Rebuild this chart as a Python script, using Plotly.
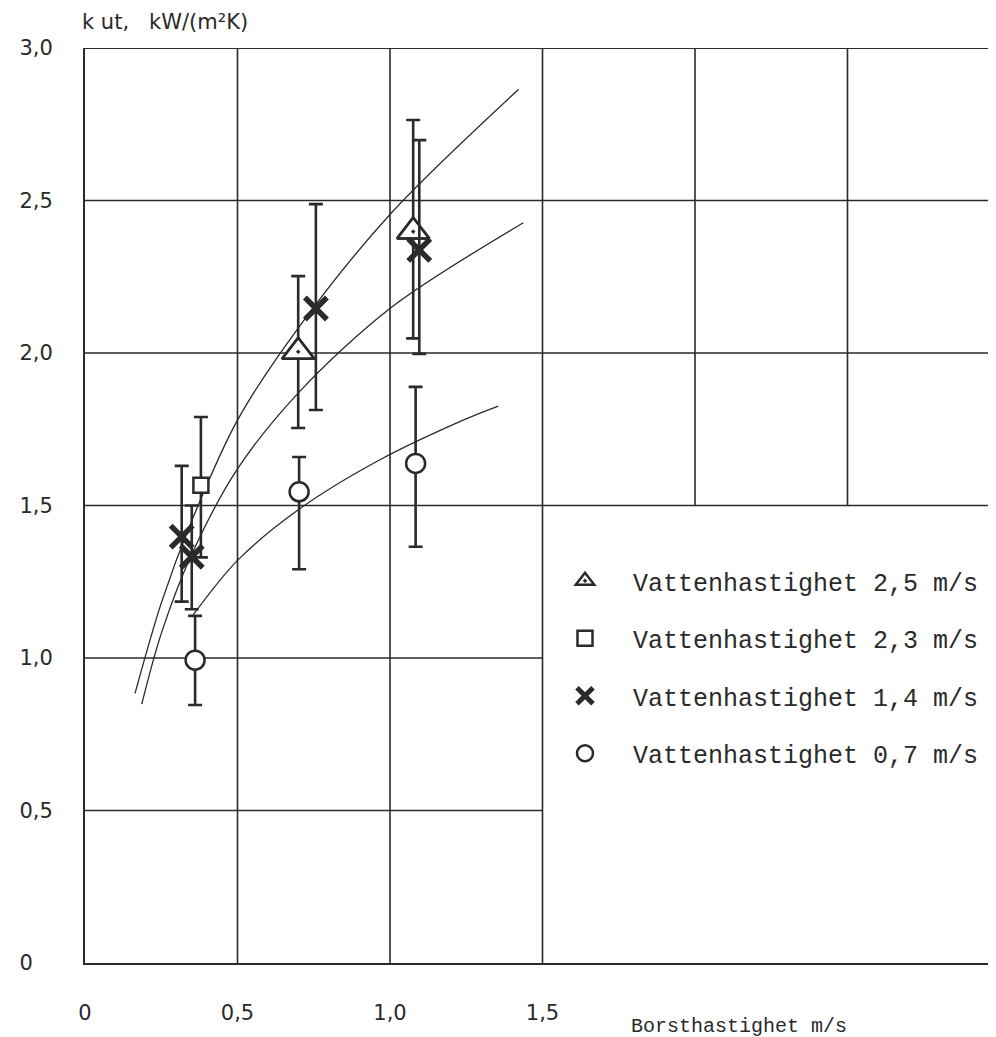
import plotly.graph_objects as go

# ---------------- data ----------------
tri_x = [0.699, 1.076]
tri_y = [2.004, 2.398]
tri_hi = [2.252, 2.764]
tri_lo = [1.754, 2.048]

sq_x = [0.380]
sq_y = [1.566]
sq_hi = [1.79]
sq_lo = [1.33]

cross_x = [0.317, 0.350, 0.757, 1.096]
cross_y = [1.398, 1.332, 2.146, 2.338]
cross_hi = [1.63, 1.50, 2.488, 2.698]
cross_lo = [1.185, 1.16, 1.813, 1.997]

circ_x = [0.361, 0.702, 1.084]
circ_y = [0.993, 1.545, 1.638]
circ_hi = [1.138, 1.659, 1.889]
circ_lo = [0.846, 1.291, 1.365]

curveA_x = [0.164, 0.25, 0.35, 0.50, 0.705, 1.005, 1.421]
curveA_y = [0.884, 1.18, 1.45, 1.78, 2.09, 2.46, 2.864]
curveB_x = [0.186, 0.25, 0.35, 0.50, 0.705, 1.005, 1.437]
curveB_y = [0.849, 1.08, 1.34, 1.62, 1.875, 2.15, 2.427]
curveC_x = [0.35, 0.50, 0.705, 0.967, 1.24, 1.355]
curveC_y = [1.135, 1.32, 1.49, 1.65, 1.78, 1.826]

legend_names = ["Vattenhastighet 2,5 m/s", "Vattenhastighet 2,3 m/s",
                "Vattenhastighet 1,4 m/s", "Vattenhastighet 0,7 m/s"]

NB = "\u00a0"
x_tickvals = [0, 0.5, 1.0, 1.5]
x_ticktext = ["0", "0,5", "1,0", "1,5"]
y_tickvals = [0, 0.5, 1.0, 1.5, 2.0, 2.5, 3.0]
y_ticktext = ["0" + NB * 3, "0,5", "1,0", "1,5", "2,0", "2,5", "3,0"]

# grid layout (reference draws the grid only partly)
v_full = [0.5, 1.0, 1.5]          # vertical lines, whole height
v_upper = [2.0, 2.5]              # vertical lines, only above y=1.5
h_left = [0.5, 1.0]               # horizontal lines, only left of x=1.5
h_full = [1.5, 2.0, 2.5, 3.0]     # horizontal lines, whole width

INK = "#2a2a2a"
X_MAX = 911 / 305.0
Y_MAX = 3.0

fig = go.Figure()

for cx, cy in [(curveA_x, curveA_y), (curveB_x, curveB_y), (curveC_x, curveC_y)]:
    fig.add_trace(go.Scatter(x=cx, y=cy, mode="lines",
                             line=dict(color=INK, width=1.3, shape="spline", smoothing=0.9),
                             showlegend=False, hoverinfo="skip"))


def err(hi, lo, y):
    return dict(type="data", symmetric=False,
                array=[h - v for h, v in zip(hi, y)],
                arrayminus=[v - l for l, v in zip(lo, y)],
                color=INK, thickness=2.6, width=7)


fig.add_trace(go.Scatter(x=tri_x, y=tri_y, mode="markers", error_y=err(tri_hi, tri_lo, tri_y),
                         marker=dict(symbol="triangle-up", size=28, color="white", line=dict(color=INK, width=2.5)),
                         showlegend=False, hoverinfo="skip"))
fig.add_trace(go.Scatter(x=tri_x, y=tri_y, mode="markers", name=legend_names[0], legendgroup="a",
                         marker=dict(symbol="triangle-up-open-dot", size=28, color=INK, line=dict(color=INK, width=2.5))))
fig.add_trace(go.Scatter(x=sq_x, y=sq_y, mode="markers", name=legend_names[1], legendgroup="b",
                         error_y=err(sq_hi, sq_lo, sq_y),
                         marker=dict(symbol="square", size=15, color="white", line=dict(color=INK, width=2.5))))
fig.add_trace(go.Scatter(x=cross_x, y=cross_y, mode="markers", name=legend_names[2], legendgroup="c",
                         error_y=err(cross_hi, cross_lo, cross_y),
                         marker=dict(symbol="x-thin", size=22, color=INK, line=dict(color=INK, width=5.5))))
fig.add_trace(go.Scatter(x=circ_x, y=circ_y, mode="markers", name=legend_names[3], legendgroup="d",
                         error_y=err(circ_hi, circ_lo, circ_y),
                         marker=dict(symbol="circle", size=19, color="white", line=dict(color=INK, width=2.5))))

shapes = []
for v in v_full:
    shapes.append(dict(type="line", xref="x", yref="y", x0=v, x1=v, y0=0, y1=Y_MAX,
                       line=dict(color=INK, width=1.6), layer="below"))
for v in v_upper:
    shapes.append(dict(type="line", xref="x", yref="y", x0=v, x1=v, y0=1.5, y1=Y_MAX,
                       line=dict(color=INK, width=1.6), layer="below"))
for h in h_left:
    shapes.append(dict(type="line", xref="x", yref="y", x0=0, x1=1.5, y0=h, y1=h,
                       line=dict(color=INK, width=1.6), layer="below"))
for h in h_full:
    shapes.append(dict(type="line", xref="x", yref="y", x0=0, x1=X_MAX, y0=h, y1=h,
                       line=dict(color=INK, width=1.9 if h == 3.0 else 1.6), layer="below"))

# the page body has an 8px margin, so the figure is made 8px smaller and shifted
OFF = 8
W, H = 996 - OFF, 1037 - OFF
L, R, T, B = 85 - OFF, 0, 48 - OFF, 74
PW, PH = W - L - R, H - T - B


def px(page_x):
    return (page_x - OFF - L) / PW


def py(page_y):
    return (H - B - (page_y - OFF)) / PH


annotations = [
    dict(text="k ut,   kW/(m²K)", xref="paper", yref="paper", x=px(80), y=py(22),
         xanchor="left", yanchor="middle", showarrow=False,
         font=dict(family="DejaVu Sans", size=21, color=INK)),
    dict(text="Borsthastighet m/s", xref="paper", yref="paper", x=px(629), y=py(1026),
         xanchor="left", yanchor="middle", showarrow=False,
         font=dict(family="Liberation Mono", size=20, color=INK)),
]

fig.update_layout(
    width=W, height=H,
    margin=dict(l=L, r=R, t=T, b=B),
    paper_bgcolor="white", plot_bgcolor="white",
    shapes=shapes, annotations=annotations,
    xaxis=dict(range=[0, X_MAX], showgrid=False, zeroline=False, showline=True, linecolor=INK, linewidth=2,
               tickvals=x_tickvals, ticktext=x_ticktext, ticks="", ticklabelstandoff=30,
               tickfont=dict(family="DejaVu Sans", size=21, color=INK)),
    yaxis=dict(range=[0, Y_MAX], showgrid=False, zeroline=False, showline=True, linecolor=INK, linewidth=2,
               tickvals=y_tickvals, ticktext=y_ticktext, ticks="", ticklabelstandoff=26,
               tickfont=dict(family="DejaVu Sans", size=21, color=INK)),
    legend=dict(x=px(537), y=py(558), xanchor="left", yanchor="top", bgcolor="rgba(0,0,0,0)",
                font=dict(family="Liberation Mono", size=25, color=INK), tracegroupgap=22,
                itemwidth=86),
    showlegend=True,
)

fig.write_html("out.html")
